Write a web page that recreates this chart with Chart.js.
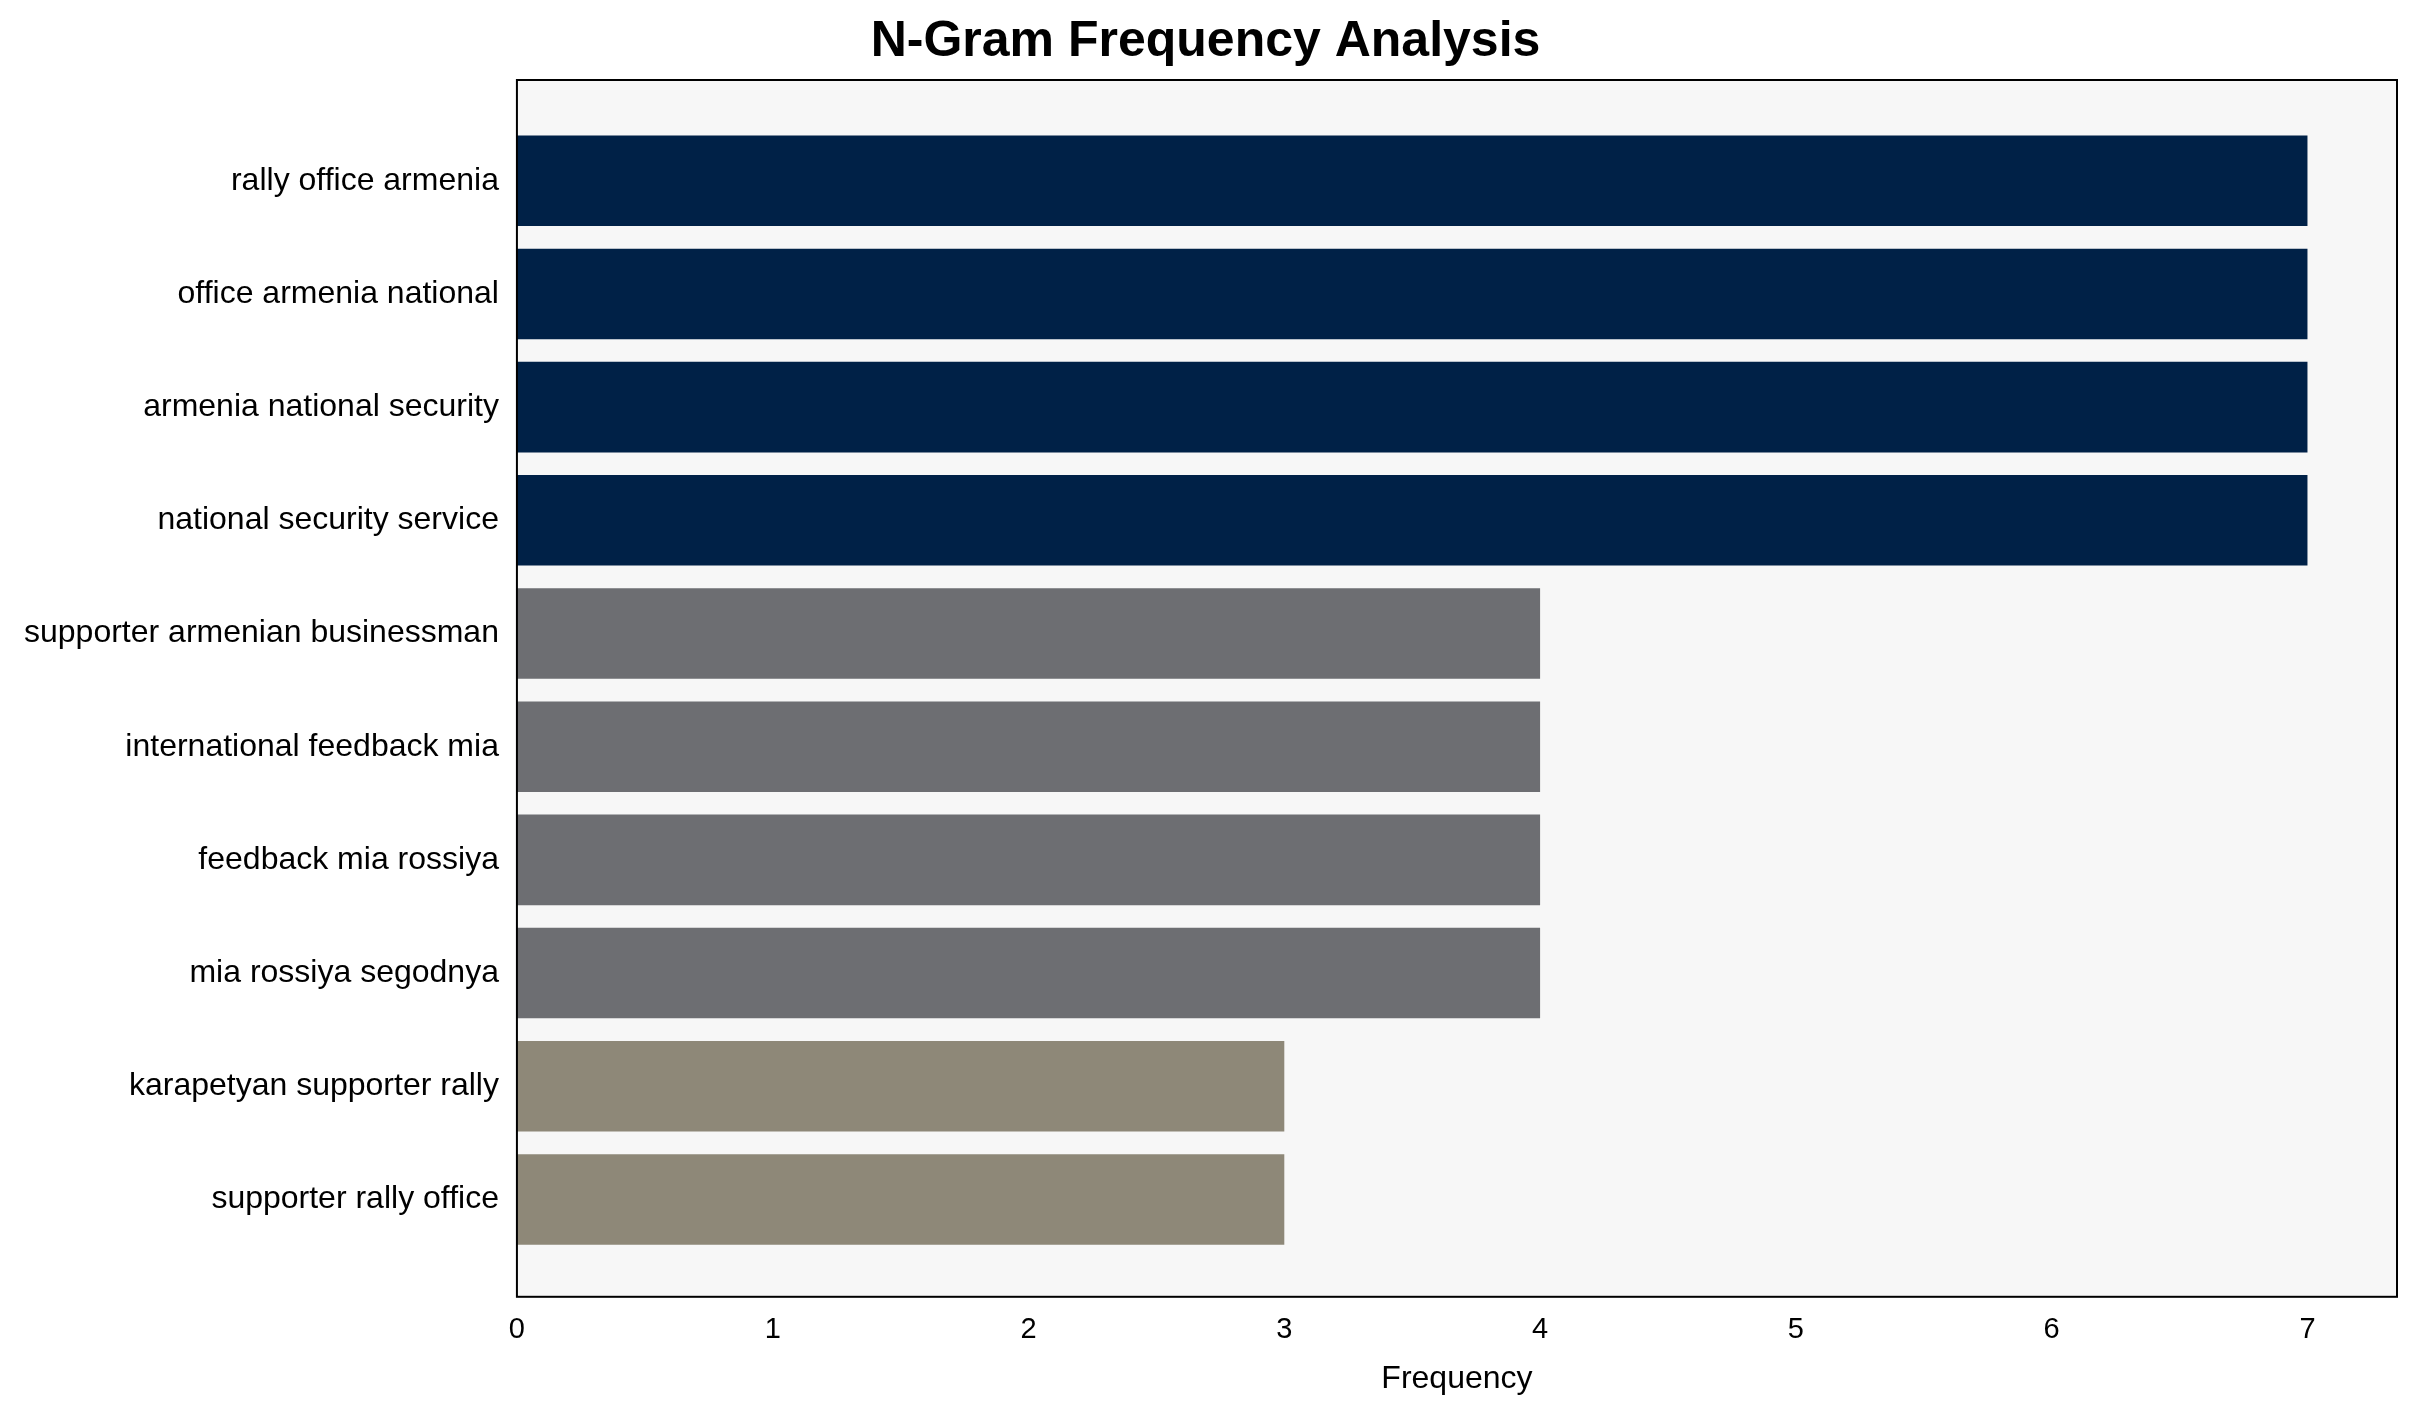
<!DOCTYPE html>
<html><head><meta charset="utf-8">
<script src="https://cdn.jsdelivr.net/npm/chart.js@4"></script>
<style>html,body{margin:0;padding:0;background:#fff}#w{width:2414px;height:1414px}</style>
</head><body><div id="w"><canvas id="c"></canvas></div>
<script>
const categories = ["rally office armenia","office armenia national","armenia national security","national security service","supporter armenian businessman","international feedback mia","feedback mia rossiya","mia rossiya segodnya","karapetyan supporter rally","supporter rally office"];
const frequencies = [7,7,7,7,4,4,4,4,3,3];
const barColors = ["#002147","#002147","#002147","#002147","#6d6e72","#6d6e72","#6d6e72","#6d6e72","#8e8878","#8e8878"];
const xTicks = [0,1,2,3,4,5,6,7];

const bgPlugin = {id:'bg',beforeDraw(ch){const a=ch.chartArea,c=ch.ctx;c.save();c.fillStyle='#f7f7f7';c.fillRect(a.left,a.top,a.right-a.left,a.bottom-a.top);c.restore();},
 afterDraw(ch){const a=ch.chartArea,c=ch.ctx;c.save();c.strokeStyle='#000';c.lineWidth=2;c.strokeRect(a.left,a.top,a.right-a.left,a.bottom-a.top);c.restore();}};

new Chart(document.getElementById('c'),{
 type:'bar',
 data:{datasets:[{data:frequencies.map((v,i)=>({x:v,y:i})),backgroundColor:barColors,barPercentage:0.8,categoryPercentage:1}]},
 options:{indexAxis:'y',responsive:true,maintainAspectRatio:false,animation:false,
  layout:{padding:{left:14,right:17,top:0,bottom:12}},
  plugins:{legend:{display:false},tooltip:{enabled:false},
   title:{display:true,text:'N-Gram Frequency Analysis',font:{family:'Liberation Sans, Arial',size:50,weight:'bold'},color:'#000',padding:{top:12,bottom:8}}},
  scales:{
   x:{type:'linear',min:0,max:7.35,grid:{display:false},border:{display:false},
      afterBuildTicks(s){s.ticks=xTicks.map(v=>({value:v}));},
      ticks:{font:{family:'Liberation Sans, Arial',size:29},color:'#000',padding:8},
      title:{display:true,text:'Frequency',font:{family:'Liberation Sans, Arial',size:32},color:'#000',padding:{top:4}}},
   y:{type:'linear',offset:false,min:-0.89,max:9.86,reverse:true,grid:{display:false},border:{display:false},
      afterBuildTicks(s){s.ticks=categories.map((_,i)=>({value:i}));},
      ticks:{font:{family:'Liberation Sans, Arial',size:32},color:'#000',padding:10,callback:v=>categories[v]}}
  }},
 plugins:[bgPlugin]
});
</script></body></html>
